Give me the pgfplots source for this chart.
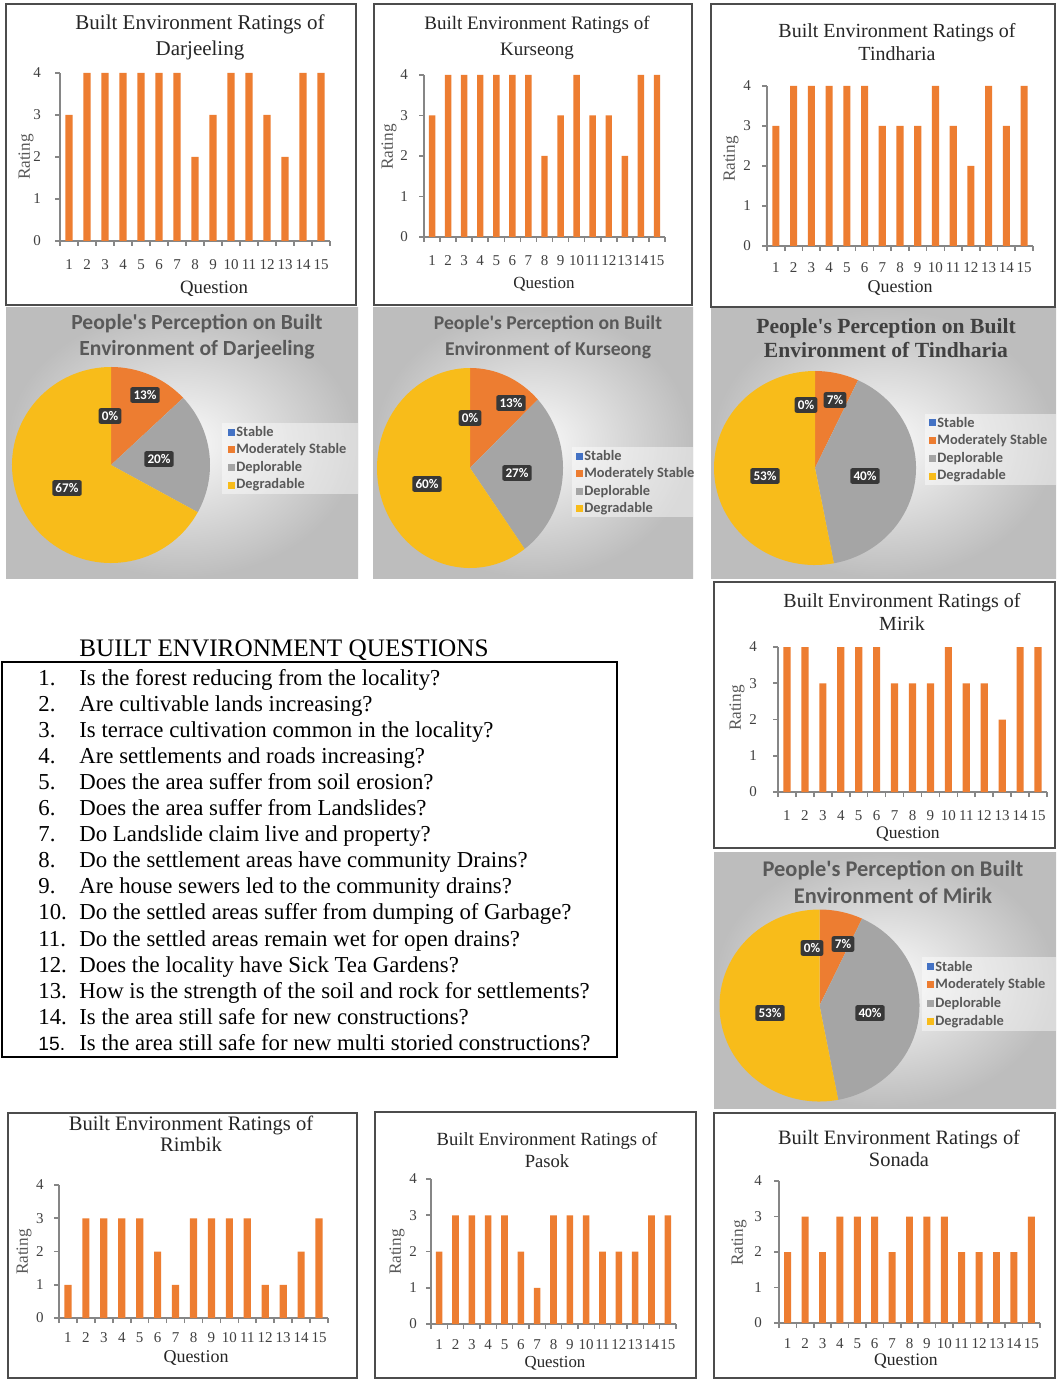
\documentclass[border=0pt]{standalone}
\usepackage{pgfplots}
\pgfplotsset{compat=1.18}
\usepackage{fontspec}
\setmainfont{Liberation Serif}
\newfontfamily\calfont{Carlito}
\newfontfamily\arialfont{Liberation Sans}
\definecolor{barorange}{HTML}{ED7D31}
\definecolor{pieblue}{HTML}{4472C4}
\definecolor{piegray}{HTML}{A5A5A5}
\definecolor{pieyellow}{HTML}{F8BC1A}
\definecolor{txtgray}{HTML}{595959}
\definecolor{axgray}{HTML}{868686}
\definecolor{tickgray}{HTML}{404040}
\definecolor{titlecol}{HTML}{262626}
\pgfplotsset{
  ratings/.style 2 args={
    scale only axis, anchor=south west,
    ybar, bar width=0.4,
    xmin=0.5, xmax=15.5, ymin=0, ymax=4,
    axis x line*=bottom, axis y line*=left,
    axis line style={-, axgray, line width=0.9pt},
    xtick={1,...,15}, ytick={0,...,4},
    minor xtick={0.5,1.5,...,15.5},
    major x tick style={draw=none},
    minor x tick style={axgray, line width=0.8pt},
    ytick style={axgray, line width=0.8pt},
    tick align=outside, major tick length=2.5pt, minor tick length=2.5pt,
    /pgf/number format/assume math mode=true,
    ticklabel style={font=\fontsize{7.5}{8}\selectfont, text=tickgray},
    xticklabel style={anchor=center, yshift=-#1},
    yticklabel style={anchor=center, xshift=-#2},
    enlargelimits=false, clip=false,
  },
  pie/.style={hide axis, x=1pt, y=1pt, xmin=-55, xmax=55, ymin=-55, ymax=55,
    anchor=center, clip=false},
}
% colour, from %, to %, x radius, y radius (pt)
\newcommand{\slice}[5]{%
  \fill[#1] (axis cs:0,0) -- (axis cs:{#4*cos(90-3.6*#2)},{#5*sin(90-3.6*#2)})
    arc[start angle={90-3.6*#2}, end angle={90-3.6*#3}, x radius=#4pt, y radius=#5pt] -- cycle;}
\newcommand{\pielegend}[3]{% x, y of first row, row step (px)
  \foreach \c/\t [count=\i from 0] in {pieblue/Stable, barorange/Moderately Stable, piegray/Deplorable, pieyellow/Degradable}{
    \fill[\c] (#1-3.5,{#2+\i*#3-3.5}) rectangle (#1+3.5,{#2+\i*#3+3.5});
    \node[anchor=west, inner sep=0pt, text=txtgray, font=\calfont\bfseries\fontsize{7.2}{8}\selectfont] at (#1+5,{#2+\i*#3}) {\t};
  }}
\newcommand{\plabel}[3]{\node[fill=black!78, text=white, rounded corners=1pt, inner sep=1.6pt,
   font=\calfont\bfseries\fontsize{6.6}{7}\selectfont] at (#1,#2) {#3};}
\newcommand{\ppl}{People\textquotesingle s Perception on Built}
\begin{document}
\begin{tikzpicture}
\begin{scope}[x=0.5pt, y=-0.5pt]
\fill[white] (0,0) rectangle (1056,1379);
% pie panel backgrounds
\foreach \a/\b/\c/\d in {6/308/358/578, 373/308/693/578, 711/308/1056/578, 714/852/1056/1108}{
  \shade[inner color=black!2, outer color=black!26] (\a,\b) rectangle (\c,\d);}
\fill[white, opacity=0.45] (222,423) rectangle (358,494);
\fill[white, opacity=0.45] (572,447) rectangle (693,517);
\fill[white, opacity=0.45] (925,414) rectangle (1056,485);
\fill[white, opacity=0.45] (922,957) rectangle (1056,1031);
% bar chart frames
\foreach \a/\b/\c/\d in {6/4/356/305, 374/4/692/305, 711/4/1055/307, 714/582/1055/848, 8/1113/357/1378, 375/1112/696/1378, 714/1113/1055/1378}{
  \draw[black!70, line width=0.7pt] (\a,\b) rectangle (\c,\d);}
% bar chart titles
\node[align=center, text=titlecol, font=\fontsize{10.5}{13}\selectfont] at (200,37) {Built Environment Ratings of\\Darjeeling};
\node[align=center, text=titlecol, font=\fontsize{9.5}{13}\selectfont] at (537,38) {Built Environment Ratings of\\Kurseong};
\node[align=center, text=titlecol, font=\fontsize{10}{11.5}\selectfont] at (897,42) {Built Environment Ratings of\\Tindharia};
\node[align=center, text=titlecol, font=\fontsize{10}{11.5}\selectfont] at (902,612) {Built Environment Ratings of\\Mirik};
\node[align=center, text=titlecol, font=\fontsize{10.3}{10.5}\selectfont] at (191,1134) {Built Environment Ratings of\\Rimbik};
\node[align=center, text=titlecol, font=\fontsize{9.3}{11}\selectfont] at (547,1150) {Built Environment Ratings of\\Pasok};
\node[align=center, text=titlecol, font=\fontsize{10.2}{11}\selectfont] at (899,1148) {Built Environment Ratings of\\Sonada};
% axis labels
\foreach \x/\y/\s in {214/289/9.4, 544/284/8.5, 900/288/9, 908/834/8.8, 196/1358/9, 555/1363/8.4, 906/1361/8.8}{
  \node[text=titlecol, font=\fontsize{\s}{10}\selectfont] at (\x,\y) {Question};}
\foreach \x/\y in {26/157, 389/147, 731/159, 737/708, 24/1252, 397/1252, 739/1243}{
  \node[rotate=90, text=txtgray, font=\fontsize{8.6}{10}\selectfont] at (\x,\y) {Rating};}
% pie titles
\node[align=center, text=txtgray, font=\calfont\bfseries\fontsize{10.8}{13}\selectfont] at (197,337) {\ppl\\Environment of Darjeeling};
\node[align=center, text=txtgray, font=\calfont\bfseries\fontsize{9.8}{13}\selectfont] at (548,337) {\ppl\\Environment of Kurseong};
\node[align=center, text=tickgray, font=\bfseries\fontsize{10.8}{12}\selectfont] at (886,338) {\ppl\\Environment of Tindharia};
\node[align=center, text=txtgray, font=\calfont\bfseries\fontsize{11.2}{13.5}\selectfont] at (893,882) {\ppl\\Environment of Mirik};
% pie legends
\pielegend{231}{432}{17.7}
\pielegend{579}{456}{17.6}
\pielegend{932}{423}{17.7}
\pielegend{930}{966}{18.6}
% questions
\node[anchor=base west, inner sep=0pt, font=\fontsize{12.6}{14}\selectfont] at (79,656) {BUILT ENVIRONMENT QUESTIONS};
\draw[line width=0.9pt] (2,662) rectangle (617,1057);
\foreach \t [count=\i] in {
  Is the forest reducing from the locality?,
  Are cultivable lands increasing?,
  Is terrace cultivation common in the locality?,
  Are settlements and roads increasing?,
  Does the area suffer from soil erosion?,
  Does the area suffer from Landslides?,
  Do Landslide claim live and property?,
  Do the settlement areas have community Drains?,
  Are house sewers led to the community drains?,
  Do the settled areas suffer from dumping of Garbage?,
  Do the settled areas remain wet for open drains?,
  Does the locality have Sick Tea Gardens?,
  How is the strength of the soil and rock for settlements?,
  Is the area still safe for new constructions?,
  Is the area still safe for new multi storied constructions?}{
  \node[anchor=base west, inner sep=0pt, font=\fontsize{11.4}{13}\selectfont] at (79,{685+(\i-1)*26.1}) {\t};
  \ifnum\i<15
  \node[anchor=base west, inner sep=0pt, font=\fontsize{11.4}{13}\selectfont] at (38,{685+(\i-1)*26.1}) {\i.};
  \fi
}
\node[anchor=base west, inner sep=0pt, font=\arialfont\fontsize{9.6}{11}\selectfont] at (38,1050.4) {15.};
\end{scope}

% ---------- bar charts ----------
\begin{axis}[ratings={9.5pt}{9pt}, at={(30pt,-120.5pt)}, width=135pt, height=84pt]
\addplot[fill=barorange, draw=none] coordinates {(1,3)(2,4)(3,4)(4,4)(5,4)(6,4)(7,4)(8,2)(9,3)(10,4)(11,4)(12,3)(13,2)(14,4)(15,4)};
\end{axis}
\begin{axis}[ratings={9.5pt}{7.5pt}, at={(212pt,-118.5pt)}, width=120.5pt, height=81pt]
\addplot[fill=barorange, draw=none] coordinates {(1,3)(2,4)(3,4)(4,4)(5,4)(6,4)(7,4)(8,2)(9,3)(10,4)(11,3)(12,3)(13,2)(14,4)(15,4)};
\end{axis}
\begin{axis}[ratings={8.5pt}{7.5pt}, at={(383.5pt,-123pt)}, width=133pt, height=80pt]
\addplot[fill=barorange, draw=none] coordinates {(1,3)(2,4)(3,4)(4,4)(5,4)(6,4)(7,3)(8,3)(9,3)(10,4)(11,3)(12,2)(13,4)(14,3)(15,4)};
\end{axis}
\begin{axis}[ratings={9.5pt}{10pt}, at={(389pt,-396pt)}, width=134.5pt, height=72.5pt]
\addplot[fill=barorange, draw=none] coordinates {(1,4)(2,4)(3,3)(4,4)(5,4)(6,4)(7,3)(8,3)(9,3)(10,4)(11,3)(12,3)(13,2)(14,4)(15,4)};
\end{axis}
\begin{axis}[ratings={7.5pt}{7pt}, at={(29.5pt,-659pt)}, width=134.5pt, height=66.5pt]
\addplot[fill=barorange, draw=none] coordinates {(1,1)(2,3)(3,3)(4,3)(5,3)(6,2)(7,1)(8,3)(9,3)(10,3)(11,3)(12,1)(13,1)(14,2)(15,3)};
\end{axis}
\begin{axis}[ratings={8pt}{6.5pt}, at={(215.5pt,-662pt)}, width=122.5pt, height=72.5pt]
\addplot[fill=barorange, draw=none] coordinates {(1,2)(2,3)(3,3)(4,3)(5,3)(6,2)(7,1)(8,3)(9,3)(10,3)(11,2)(12,2)(13,2)(14,3)(15,3)};
\end{axis}
\begin{axis}[ratings={8pt}{8pt}, at={(389.5pt,-661.5pt)}, width=130.5pt, height=71pt]
\addplot[fill=barorange, draw=none] coordinates {(1,2)(2,3)(3,2)(4,3)(5,3)(6,3)(7,2)(8,3)(9,3)(10,3)(11,2)(12,2)(13,2)(14,2)(15,3)};
\end{axis}

% ---------- pies (Stable, Moderately Stable, Deplorable, Degradable) ----------
\begin{axis}[pie, at={(55.5pt,-232.5pt)}]
\slice{barorange}{0}{13}{49.5}{49}
\slice{piegray}{13}{33}{49.5}{49}
\slice{pieyellow}{33}{100}{49.5}{49}
\end{axis}
\begin{axis}[pie, at={(235pt,-234pt)}]
\slice{barorange}{0}{13}{46.5}{50}
\slice{piegray}{13}{40}{46.5}{50}
\slice{pieyellow}{40}{100}{46.5}{50}
\end{axis}
\begin{axis}[pie, at={(407.5pt,-234pt)}]
\slice{barorange}{0}{7}{50.5}{48.5}
\slice{piegray}{7}{47}{50.5}{48.5}
\slice{pieyellow}{47}{100}{50.5}{48.5}
\end{axis}
\begin{axis}[pie, at={(409.75pt,-502.75pt)}]
\slice{barorange}{0}{7}{50}{48}
\slice{piegray}{7}{47}{50}{48}
\slice{pieyellow}{47}{100}{50}{48}
\end{axis}

\begin{scope}[x=0.5pt, y=-0.5pt]
\plabel{110}{416}{0\%}\plabel{145}{395}{13\%}\plabel{159}{459}{20\%}\plabel{67}{488}{67\%}
\plabel{470}{418}{0\%}\plabel{511}{403}{13\%}\plabel{517}{473}{27\%}\plabel{427}{484}{60\%}
\plabel{806}{405}{0\%}\plabel{835}{400}{7\%}\plabel{865}{476}{40\%}\plabel{765}{476}{53\%}
\plabel{812}{948}{0\%}\plabel{843}{944}{7\%}\plabel{870}{1013}{40\%}\plabel{770}{1013}{53\%}
\end{scope}
\pgfresetboundingbox
\path[use as bounding box] (0pt,0pt) rectangle (528pt,-689.5pt);
\end{tikzpicture}
\end{document}
